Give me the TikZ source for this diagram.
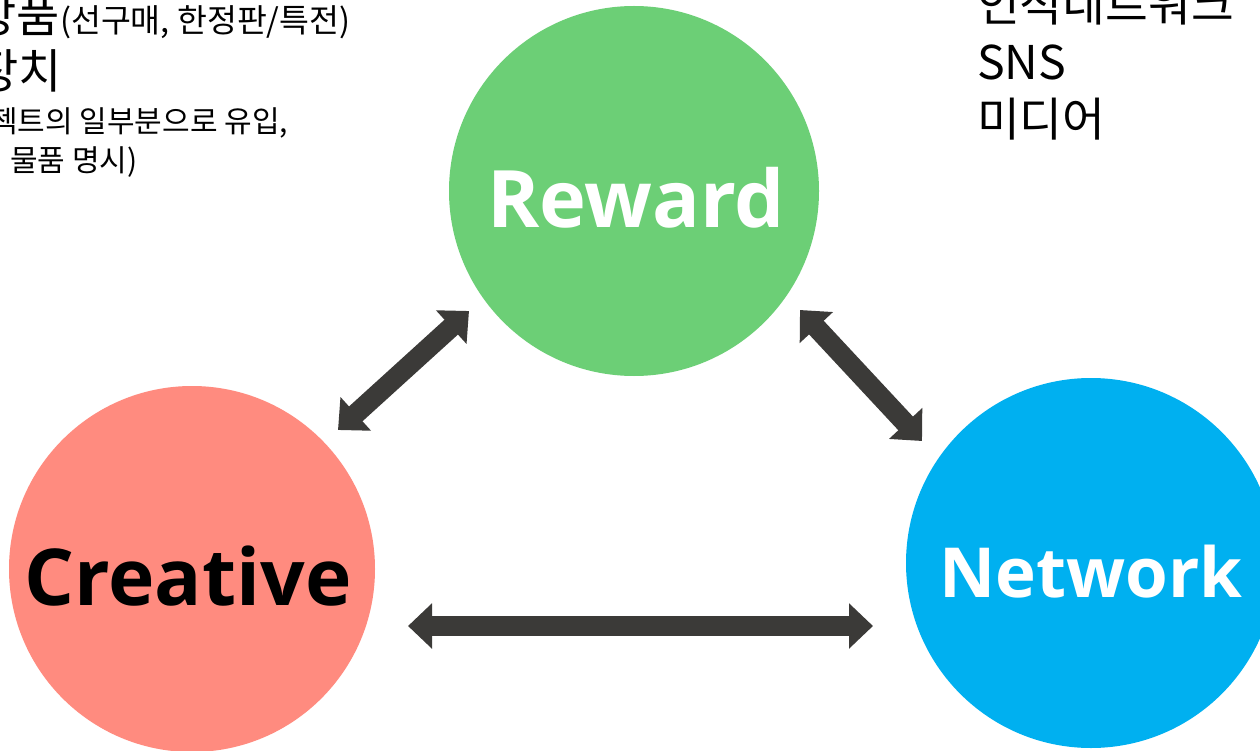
\documentclass[tikz,border=0pt]{standalone}
\usepackage{fontspec}
\setmainfont{Noto Sans CJK KR}
\newfontfamily\labelfont{Open Sans}
\usetikzlibrary{arrows.meta}
\definecolor{rewardgreen}{HTML}{6CCF76}
\definecolor{creativered}{HTML}{FF8B7F}
\definecolor{networkblue}{HTML}{00B0F0}
\definecolor{arrowgray}{HTML}{3B3A38}
\tikzset{
  circ/.style={circle, inner sep=0pt, minimum size=#1},
  biglabel/.style={font=\labelfont\bfseries\fontsize{80}{80}\selectfont, inner sep=0pt, anchor=base},
  fatarrow/.style={draw=arrowgray, line width=20pt, {Triangle[width=44pt,length=24pt]}-{Triangle[width=44pt,length=24pt]}},
  txt/.style={inner sep=0pt, anchor=base west},
}
\begin{document}
\begin{tikzpicture}[x=1pt,y=-1pt]
\useasboundingbox (0,0) rectangle (1260,751);
\clip (0,0) rectangle (1260,751);
\fill[white] (0,0) rectangle (1260,751);
% circles
\node[circ=370pt, fill=rewardgreen] (reward) at (634,191) {};
\node[circ=366pt, fill=creativered] (creative) at (192,569) {};
\node[circ=370pt, fill=networkblue] (network) at (1091,563) {};
% labels
\node[biglabel, text=white] (rewardlbl) at (636,228) {\resizebox{298pt}{!}{Reward}};
\node[biglabel, text=black] (creativelbl) at (188,605) {\resizebox{327pt}{!}{Creative}};
\node[biglabel, text=white] (networklbl) at (1091,597) {\resizebox{303pt}{!}{Network}};
% arrow end points
\coordinate (a1s) at (338,430);
\coordinate (a1e) at (469,311);
\coordinate (a2s) at (800,310);
\coordinate (a2e) at (922,441);
\coordinate (a3s) at (408,626);
\coordinate (a3e) at (873,626);
\draw[fatarrow] (a1s) -- (a1e);
\draw[fatarrow] (a2s) -- (a2e);
\draw[fatarrow] (a3s) -- (a3e);
% left text
\node[inner sep=0pt, anchor=base east, font=\fontsize{47}{47}\selectfont] (l1a) at (60,33) {상품};
\node[txt, font=\fontsize{32.5}{32.5}\selectfont] (l1b) at (l1a.base east) {(선구매, 한정판/특전)};
\node[inner sep=0pt, anchor=base east, font=\fontsize{47}{47}\selectfont] (l2) at (62,89) {장치};
\node[txt, font=\fontsize{30}{30}\selectfont] (l3) at (-10,133) {젝트의 일부분으로 유입,};
\node[txt, font=\fontsize{30}{30}\selectfont] (l4) at (10,172) {물품 명시)};
% right text
\node[txt, font=\fontsize{46.5}{46.5}\selectfont] (r1) at (977,22) {인적네트워크};
\node[txt, font=\fontsize{46.5}{46.5}\selectfont] (r2) at (977,80) {SNS};
\node[txt, font=\fontsize{46.5}{46.5}\selectfont] (r3) at (977,137) {미디어};
\end{tikzpicture}
\end{document}
